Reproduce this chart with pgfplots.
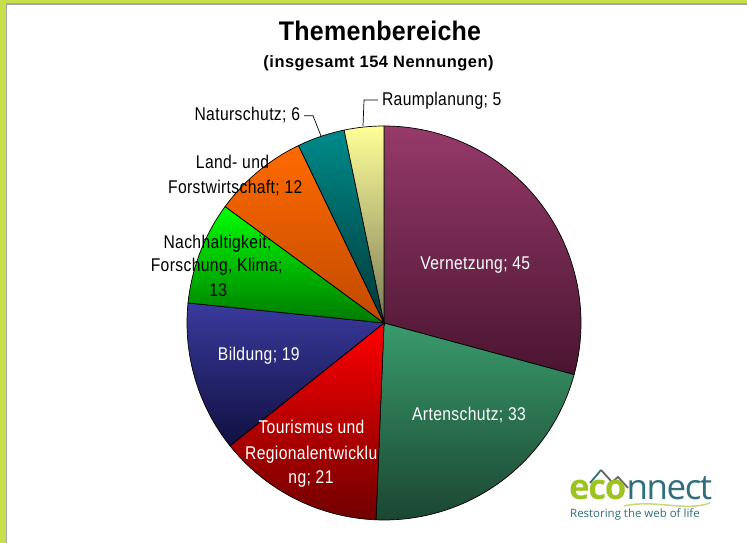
\documentclass[border=0pt]{standalone}
\usepackage{pgfplots}
\pgfplotsset{compat=1.18}
\usepackage{fontspec}
\setmainfont{Liberation Sans}
\newfontfamily\labfont{Liberation Sans}[FakeStretch=0.85,LetterSpace=2]
\newfontfamily\titlefont{Liberation Sans}[FakeStretch=0.93,LetterSpace=1]
\newfontfamily\subfont{Liberation Sans}[LetterSpace=3]
\newfontfamily\logofont{Open Sans}

\definecolor{frame}{HTML}{C6E04C}
\definecolor{vernT}{HTML}{963A6A}
\definecolor{vernB}{HTML}{4A1530}
\definecolor{artT}{HTML}{3A9A6C}
\definecolor{artB}{HTML}{1A4530}
\definecolor{tourT}{HTML}{FF0000}
\definecolor{tourB}{HTML}{700000}
\definecolor{bildT}{HTML}{3A3A9E}
\definecolor{bildB}{HTML}{101040}
\definecolor{nachT}{HTML}{00FF00}
\definecolor{nachB}{HTML}{007A00}
\definecolor{landT}{HTML}{FF6A00}
\definecolor{landB}{HTML}{C04A00}
\definecolor{natT}{HTML}{008A8A}
\definecolor{natB}{HTML}{003838}
\definecolor{raumT}{HTML}{FFFF99}
\definecolor{raumB}{HTML}{7A7A58}
\definecolor{logoGreen}{HTML}{9CC31E}
\definecolor{logoTeal}{HTML}{2F6E7C}

\begin{document}
\begin{tikzpicture}
\begin{axis}[
    scale only axis,
    width=747bp, height=543bp,
    xmin=0, xmax=747, ymin=0, ymax=543,
    hide axis, clip=false,
]
% background and frame
\fill[white] (axis cs:0,0) rectangle (axis cs:747,543);
\fill[frame] (axis cs:0,0) rectangle (axis cs:6,543);
\fill[frame] (axis cs:0,539.7) rectangle (axis cs:747,543);
\fill[gray!70] (axis cs:6,0) rectangle (axis cs:7.4,539.7);
\fill[gray!70] (axis cs:6,538.3) rectangle (axis cs:747,539.7);

% pie: value / top colour / bottom colour (sum 154), clockwise from 12 o'clock
\gdef\pieangle{90}
\foreach \v/\ct/\cb in {45/vernT/vernB, 33/artT/artB, 21/tourT/tourB, 19/bildT/bildB,
                        13/nachT/nachB, 12/landT/landB, 6/natT/natB, 5/raumT/raumB} {
  \pgfmathsetmacro\endangle{\pieangle-\v*360/154}
  \edef\temp{\noexpand\path[draw=black, line width=0.7bp, top color=\ct, bottom color=\cb]
    (axis cs:384,220) -- ++(\pieangle:197bp)
    arc[start angle=\pieangle, end angle=\endangle, radius=197bp] -- cycle;}
  \temp
  \global\let\pieangle\endangle
}

% title
\node[anchor=base, font=\titlefont\bfseries\fontsize{27}{30}\selectfont]
  at (axis cs:380,502.3) {Themenbereiche};
\node[anchor=base, font=\subfont\bfseries\fontsize{16.5}{18}\selectfont]
  at (axis cs:378.5,475.3) {(insgesamt 154 Nennungen)};

% slice labels
\tikzset{lab/.style={anchor=base, font=\labfont\fontsize{18.5}{24}\selectfont}}
\node[lab, text=white] at (axis cs:475.3,273.7) {Vernetzung; 45};
\node[lab, text=white] at (axis cs:469,122.3) {Artenschutz; 33};
\node[lab, text=white] at (axis cs:311.5,109.7) {Tourismus und};
\node[lab, text=white] at (axis cs:311.2,83) {Regionalentwicklu};
\node[lab, text=white] at (axis cs:311,59.7) {ng; 21};
\node[lab, text=white] at (axis cs:258.8,182) {Bildung; 19};
\node[lab] at (axis cs:217.5,294.7) {Nachhaltigkeit;};
\node[lab] at (axis cs:216.7,271.3) {Forschung, Klima;};
\node[lab] at (axis cs:218.3,246.3) {13};
\node[lab] at (axis cs:232.5,374.7) {Land- und};
\node[lab] at (axis cs:235.2,349.7) {Forstwirtschaft; 12};
\node[lab, anchor=base east] at (axis cs:303.5,422.3) {Naturschutz; 6};
\node[lab, anchor=base west] at (axis cs:378.5,437.3) {Raumplanung; 5};

% leader lines
\draw[black, line width=0.7bp] (axis cs:304,427.3) -- (axis cs:313,427.3) -- (axis cs:321,407);
\draw[black, line width=0.7bp] (axis cs:378,443) -- (axis cs:364,443) -- (axis cs:363,417);

% logo
\draw[logoTeal, line width=1.8bp] (axis cs:590,60) -- (axis cs:601,73);
\draw[gray!80!black, line width=1.8bp] (axis cs:601,73) -- (axis cs:612,61) -- (axis cs:618,66) -- (axis cs:628,55);
\draw[logoGreen!60, line width=1.5bp] (axis cs:624,37) .. controls (axis cs:655,44) and (axis cs:685,31) .. (axis cs:710,40);
\node[anchor=base west, inner sep=0pt, font=\logofont\fontsize{35}{37}\selectfont]
  at (axis cs:569,43) {\addfontfeatures{LetterSpace=-4}\textcolor{logoGreen}{\bfseries eco}\textcolor{logoTeal}{nnect}};
\node[anchor=base west, inner sep=0pt, font=\logofont\fontsize{11.5}{13}\selectfont, text=logoTeal]
  at (axis cs:570,25.3) {Restoring the web of life};
\end{axis}
\end{tikzpicture}
\end{document}
